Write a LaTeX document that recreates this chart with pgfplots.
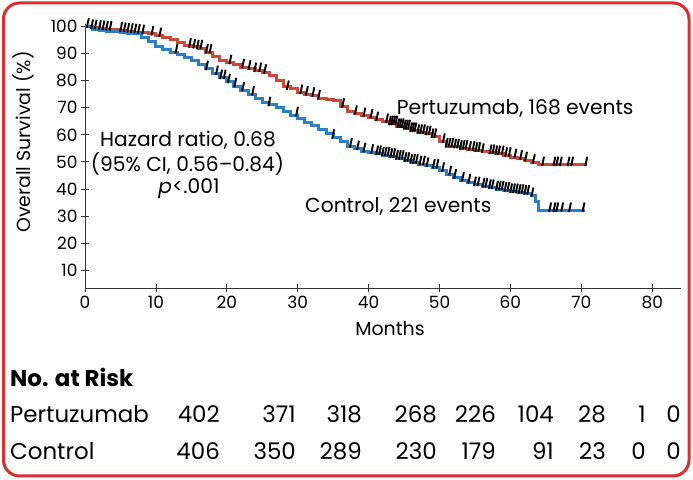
\documentclass[border=0pt]{standalone}
\usepackage{fontspec}
\setmainfont{Poppins}
\usepackage{pgfplots}
\pgfplotsset{compat=1.18}

\definecolor{pertred}{RGB}{204,74,58}
\definecolor{ctrlblue}{RGB}{46,128,196}
\definecolor{framered}{RGB}{214,48,48}

\newcommand{\fs}[1]{\fontsize{#1}{#1}\selectfont}

\begin{document}
\begin{tikzpicture}
\useasboundingbox (0,0) rectangle (693bp,480bp);
\draw[framered, line width=3bp, rounded corners=16bp] (3.5bp,4bp) rectangle (689bp,477bp);

\begin{axis}[
  at={(85bp,191.7bp)}, anchor=south west,
  scale only axis, width=595.6bp, height=264.6bp,
  xmin=0, xmax=84, ymin=3.36, ymax=101,
  axis lines=left, axis line style={-, black!80, line width=0.8bp},
  xtick={0,10,...,80}, ytick={10,20,...,100},
  tick align=center, major tick length=8bp,
  tick style={black!80, line width=0.8bp},
  /pgf/number format/assume math mode=true,
  tick label style={font=\fs{17}},
  clip=false,
]
% Pertuzumab, Kaplan-Meier
\addplot[const plot, pertred, line width=3bp] coordinates {
 (0,100) (1,99.5) (2,99.2) (3,99) (4,98.8) (5,98.5) (6,98.2) (7,97.9) (8,97.6)
 (9,97.3) (10,96.8) (11,96) (12,95) (13,94) (14,93) (15,92.5) (16,92) (17,90.5)
 (18,89) (19,87.5) (20,86.5) (21,85.8) (22,85) (23,84.5) (24,83.6) (25,83)
 (26,82) (27,80) (28,78) (29,77) (30,75.5) (31,75) (32,74.5) (33,73.5) (34,73)
 (35,72.5) (36,70.5) (37,68.5) (38,67.8) (39,67) (40,66.5) (41,65.5) (42,64.8)
 (43,64) (44,63) (45,62.5) (46,61.5) (47,60.8) (48,60.3) (49,59.3) (50,57.5)
 (51,55.8) (52,55.5) (53,55) (54,54.6) (55,54.2) (56,53.8) (57,53.4) (58,53)
 (59,52.4) (60,51.8) (61,51.3) (62,50.7) (63,49.8) (64,48.9) (70.8,48.9)
};
% Control, Kaplan-Meier
\addplot[const plot, ctrlblue, line width=3bp] coordinates {
 (0,100) (1,99) (2,98.6) (3,98.2) (4,98) (5,97.8) (6,97.5) (7,97.2) (8,96)
 (9,94.5) (10,92.5) (11,91.5) (12,90.5) (13,89.5) (14,88.5) (15,87.5) (16,86)
 (17,84.3) (18,82.5) (19,81) (20,79.5) (21,78) (22,76.5) (23,75) (24,73.3)
 (25,72) (26,71) (27,70) (28,68.5) (29,67.3) (30,66) (31,64.5) (32,63.5) (33,62)
 (34,60.5) (35,59) (36,57.5) (37,55.8) (38,54.8) (39,54) (40,53.5) (41,53)
 (42,52.5) (43,52) (44,51.3) (45,50.5) (46,49.8) (47,49.2) (48,48.6) (49,48)
 (50,46.8) (51,45.5) (52,44.3) (53,43.2) (54,42.5) (55,41.5) (56,41) (57,40.5)
 (58,40) (59,39.5) (60,39) (61,38.7) (62,38.4) (63,37.5) (63.5,35.3) (64,32)
 (70.5,32)
};
% censored observations
\addplot[only marks, mark=|, mark size=4.8bp, black, line width=1.9bp,
  mark options={yshift=3.5bp, rotate=-12}] coordinates {
 (0.4,100) (1.0,99.5) (1.5,99.4) (2.1,99.2) (2.6,99.1) (3.1,99) (3.6,98.9)
 (5.1,98.5) (5.6,98.4) (6.1,98.2) (6.6,98.1) (7.1,97.9) (7.6,97.8) (8.2,97.6)
 (9.5,97.1) (10.6,96.5) (14.8,92.6) (15.4,92.3) (15.9,92) (16.4,92) (17.2,90.5)
 (17.7,90.5) (20.5,86.5) (22.3,85) (23.2,84.5) (24,83.6) (24.7,83.6) (25.4,83)
 (28.6,77) (30.5,75.5) (31.3,75) (32.2,74.5) (33,73.5) (36.4,70.5) (38.2,67.8)
 (39.4,67) (40.4,66.5) (41.2,65.5) (42.6,64.8) (43,64) (43.3,64) (43.6,64)
 (43.9,64) (44.2,63) (44.5,63) (44.8,63) (45.1,62.5) (45.4,62.5) (45.7,62.5)
 (46,61.5) (46.3,61.5) (46.6,61.5) (47,60.8) (47.4,60.8) (47.8,60.8) (48.2,60.3)
 (48.6,60.3) (49,59.3) (49.4,59.3) (50.6,57.5) (51,55.8) (51.4,55.8) (51.8,55.8)
 (52.2,55.5) (52.6,55.5) (53,55) (53.4,55) (53.8,55) (54.3,54.6) (54.8,54.6)
 (55.2,54.2) (55.6,54.2) (56.1,53.8) (57.2,53.4) (57.6,53.4) (58,53) (58.4,53)
 (58.9,53) (59.4,52.4) (59.9,52.4) (60.7,51.8) (61.5,51.3) (62.2,50.7)
 (63.3,49.8) (64.6,48.9) (66.2,48.9) (66.6,48.9) (67.1,48.9) (68.2,48.9)
 (68.7,48.9) (70.7,48.9)
 (12.9,90.5) (17.2,84.3) (18.6,82.5) (19.2,81) (19.7,81) (20.3,79.5) (21.2,78)
 (22.3,76.5) (23.7,75) (26,71) (29.9,67.3) (35,59) (37.5,55.8) (38.5,54.8)
 (39.4,54) (40.5,53.5) (41.2,53) (41.6,53) (42,52.5) (42.4,52.5) (42.8,52.5)
 (43.2,52) (43.6,52) (44,51.3) (44.4,51.3) (44.8,51.3) (45.2,50.5) (45.6,50.5)
 (46,49.8) (46.4,49.8) (46.8,49.8) (47.3,49.2) (47.8,49.2) (48.3,48.6) (49.2,48)
 (49.7,48) (50.5,46.8) (51.5,45.5) (52.2,44.3) (53.3,43.2) (54.2,42.5) (55,41.5)
 (55.5,41.5) (56.2,41) (56.6,41) (57.1,40.5) (57.5,40.5) (58.1,40) (58.5,40)
 (58.9,40) (59.3,39.5) (59.7,39.5) (60.1,39) (60.5,39) (60.9,39) (61.3,38.7)
 (61.7,38.7) (62.1,38.4) (62.5,38.4) (63.1,37.5) (65.6,32) (66.2,32) (66.6,32)
 (67.3,32) (68.4,32) (70.3,32)
};
\end{axis}

% axis titles
\node[rotate=90, font=\fs{19}] at (23bp,338bp) {Overall Survival (\%)};
\node[font=\fs{19}] at (390bp,151bp) {Months};

% annotations
\begin{scope}[every node/.style={font=\fs{20.3}, inner sep=0pt}]
\node[anchor=base] at (188bp,333.3bp) {Hazard ratio, 0.68};
\node[anchor=base] at (187.5bp,308.3bp) {(95\% CI, 0.56–0.84)};
\node[anchor=base] at (189bp,286.7bp) {\textit{p}<.001};
\node[anchor=base west] at (396.7bp,365bp) {Pertuzumab, 168 events};
\node[anchor=base west] at (305bp,267.3bp) {Control, 221 events};
\end{scope}

% number at risk table
\begin{scope}[every node/.style={font=\fs{23}, inner sep=0pt}]
\node[anchor=base west, font=\fs{23}\bfseries] at (10bp,93bp) {No. at Risk};
\node[anchor=base west] at (10bp,57bp) {Pertuzumab};
\node[anchor=base west] at (10bp,20.7bp) {Control};
\foreach \x/\a/\b in {220/402/406, 296/371/350, 362/318/289, 437/268/230,
                      496/226/179, 554/104/91, 606/28/23, 646/1/0, 681/0/0} {
  \node[anchor=base east] at (\x bp,57bp) {\a};
  \node[anchor=base east] at (\x bp,20.7bp) {\b};
}
\end{scope}
\end{tikzpicture}
\end{document}
